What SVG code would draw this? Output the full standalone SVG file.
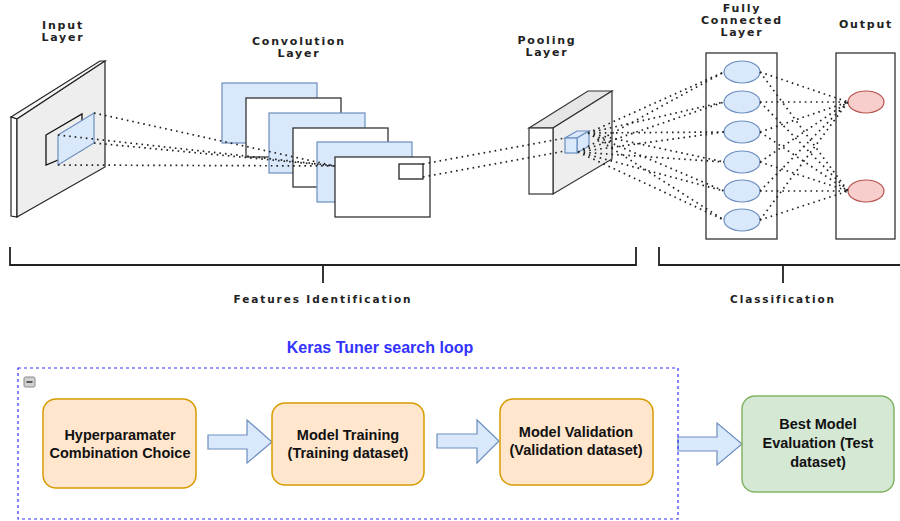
<svg xmlns="http://www.w3.org/2000/svg" width="900" height="521" viewBox="0 0 900 521">
<style>
.ttl{font-family:"DejaVu Sans",Verdana,sans-serif;font-weight:bold;font-size:11px;fill:#222;text-anchor:middle;letter-spacing:1.8px}
.sec{font-family:"DejaVu Sans",Verdana,sans-serif;font-weight:bold;font-size:10.5px;fill:#222;text-anchor:middle;letter-spacing:1.9px}
.lbl{font-family:"Liberation Sans",Arial,sans-serif;font-weight:bold;font-size:14.5px;fill:#111;text-anchor:middle}
.dot{fill:none;stroke:#222;stroke-width:1.7;stroke-dasharray:1.6 4}
.blue{fill:#dae8fc;stroke:#6c8ebf;stroke-width:1.2}
.wht{fill:#fff;stroke:#333;stroke-width:1.3}
.red{fill:#f8cecc;stroke:#b85450;stroke-width:1.2}
.org{fill:#ffe6cc;stroke:#d79b00;stroke-width:1.5}
.grn{fill:#d5e8d4;stroke:#82b366;stroke-width:1.5}
.brk{fill:none;stroke:#222;stroke-width:1.8}
</style>

<!-- Input layer -->
<g id="input-layer">
  <text class="ttl" x="63" y="29">Input</text>
  <text class="ttl" x="63" y="41">Layer</text>
  <polygon points="11,117 100,61 105,61 17,119" fill="#f5f5f5" stroke="#222" stroke-width="1.2"/>
  <polygon points="11,117 17,119 17,217 11,216" fill="#fff" stroke="#222" stroke-width="1.2"/>
  <polygon points="17,119 105,61 105,167 17,217" fill="#eeeeee" stroke="#222" stroke-width="1.2"/>
  <polygon points="46,135 82,114 82,150 46,165" fill="none" stroke="#111" stroke-width="1.3"/>
  <polygon points="58,135 94,113 94,143 58,165" class="blue"/>
</g>

<!-- Convolution layer -->
<g id="conv-layer">
  <text class="ttl" x="299" y="45">Convolution</text>
  <text class="ttl" x="299" y="57">Layer</text>
  <rect x="222" y="83" width="95" height="60" class="blue"/>
  <rect x="246" y="98" width="95" height="59" class="wht"/>
  <rect x="269" y="113" width="96" height="60" class="blue"/>
  <rect x="293" y="128" width="95" height="59" class="wht"/>
  <rect x="317" y="142" width="95" height="60" class="blue"/>
  <rect x="335" y="157" width="95" height="60" class="wht"/>
  <rect x="399" y="164" width="24" height="15" fill="none" stroke="#222" stroke-width="1.3"/>
</g>

<!-- Pooling layer -->
<g id="pooling-layer">
  <text class="ttl" x="547" y="44">Pooling</text>
  <text class="ttl" x="547" y="56">Layer</text>
  <polygon points="529,128 588,91 612,91 553,128" fill="#e6e6e6" stroke="#333" stroke-width="1.2"/>
  <polygon points="553,128 612,91 612,159 553,194" fill="#eeeeee" stroke="#333" stroke-width="1.2"/>
  <rect x="529" y="128" width="24" height="66" fill="#fff" stroke="#333" stroke-width="1.2"/>
  <polygon points="565,138 577,138 589,131 577,131" class="blue"/>
  <polygon points="577,138 589,131 589,146 577,153" class="blue"/>
  <rect x="565" y="138" width="12" height="15" class="blue"/>
</g>

<!-- Fully connected layer -->
<g id="fc-layer">
  <text class="ttl" x="742" y="12">Fully</text>
  <text class="ttl" x="742" y="24">Connected</text>
  <text class="ttl" x="742" y="36">Layer</text>
  <rect x="706" y="53" width="71" height="186" fill="#fff" stroke="#333" stroke-width="1.3"/>
  <ellipse cx="742" cy="72" rx="18" ry="11" class="blue"/>
  <ellipse cx="742" cy="102" rx="18" ry="11" class="blue"/>
  <ellipse cx="742" cy="132" rx="18" ry="11" class="blue"/>
  <ellipse cx="742" cy="162" rx="18" ry="11" class="blue"/>
  <ellipse cx="742" cy="191" rx="18" ry="11" class="blue"/>
  <ellipse cx="742" cy="220" rx="18" ry="11" class="blue"/>
</g>

<!-- Output layer -->
<g id="output-layer">
  <text class="ttl" x="866" y="28">Output</text>
  <rect x="836" y="53" width="59" height="186" fill="#fff" stroke="#333" stroke-width="1.3"/>
  <ellipse cx="866" cy="102" rx="18" ry="11" class="red"/>
  <ellipse cx="866" cy="191" rx="18" ry="11" class="red"/>
</g>

<!-- connectors -->
<g id="connectors">
  <path class="dot" d="M94,113 L335,166"/>
  <path class="dot" d="M58,135 L335,166"/>
  <path class="dot" d="M94,143 L335,166"/>
  <path class="dot" d="M58,165 L335,166"/>
  <path class="dot" d="M423,164 L565,138"/>
  <path class="dot" d="M423,177 L565,151"/>
  <path class="dot" d="M588,133 L724,72 M588,133 L724,102 M588,133 L724,132 M588,133 L724,162 M588,133 L724,191 M588,133 L724,220"/>
  <path class="dot" d="M578,152 L724,72 M578,152 L724,102 M578,152 L724,132 M578,152 L724,162 M578,152 L724,191 M578,152 L724,220"/>
  <path class="dot" d="M760,72 L848,102 M760,102 L848,102 M760,132 L848,102 M760,162 L848,102 M760,191 L848,102 M760,220 L848,102"/>
  <path class="dot" d="M760,72 L848,191 M760,102 L848,191 M760,132 L848,191 M760,162 L848,191 M760,191 L848,191 M760,220 L848,191"/>
  <polygon points="208,435 247,435 247,420 272,442 247,463 247,449 208,449" class="blue"/>
  <polygon points="437,434 477,434 477,420 499,441 477,463 477,448 437,448" class="blue"/>
  <polygon points="678,437 717,437 717,423 742,444 717,465 717,451 678,451" class="blue"/>
</g>

<!-- section brackets -->
<g id="features-identification">
  <path class="brk" d="M10,247 V265 H636 V247 M323,265 V283"/>
  <text class="sec" x="323" y="303">Features Identification</text>
</g>
<g id="classification">
  <path class="brk" d="M659,247 V265 H900 M783,265 V283"/>
  <text class="sec" x="783" y="303">Classification</text>
</g>

<!-- Keras tuner loop -->
<g id="search-loop">
  <text x="380" y="353" font-family="Liberation Sans, Arial, sans-serif" font-weight="bold" font-size="16px" fill="#3333ff" text-anchor="middle">Keras Tuner search loop</text>
  <rect x="18" y="368" width="660" height="151" fill="none" stroke="#3333ff" stroke-width="1.2" stroke-dasharray="3 3"/>
  <rect x="24" y="377" width="11" height="10" rx="1.5" fill="#d0d0d0" stroke="#888" stroke-width="1"/>
  <path d="M26.5,382 H32.5" stroke="#333" stroke-width="1.5"/>
</g>

<g id="hyperparameter">
  <rect x="43" y="399" width="153" height="89" rx="13" class="org"/>
  <text class="lbl" x="120" y="440">Hyperparamater</text>
  <text class="lbl" x="120" y="458">Combination Choice</text>
</g>
<g id="training">
  <rect x="272" y="403" width="152" height="82" rx="13" class="org"/>
  <text class="lbl" x="348" y="440">Model Training</text>
  <text class="lbl" x="348" y="458">(Training dataset)</text>
</g>
<g id="validation">
  <rect x="500" y="399" width="153" height="86" rx="13" class="org"/>
  <text class="lbl" x="576" y="437">Model Validation</text>
  <text class="lbl" x="576" y="455">(Validation dataset)</text>
</g>
<g id="evaluation">
  <rect x="742" y="396" width="152" height="96" rx="13" class="grn"/>
  <text class="lbl" x="818" y="429">Best Model</text>
  <text class="lbl" x="818" y="448">Evaluation (Test</text>
  <text class="lbl" x="818" y="467">dataset)</text>
</g>
</svg>
